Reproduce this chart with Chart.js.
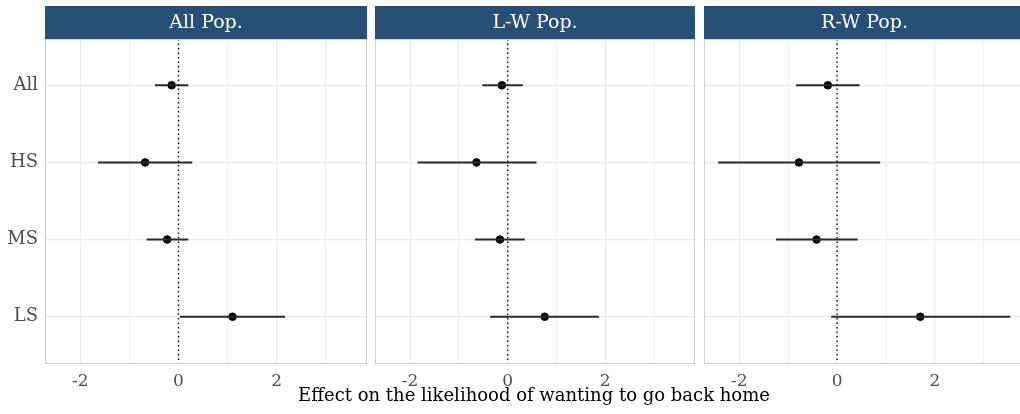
<!DOCTYPE html>
<html>
<head>
<meta charset="utf-8">
<script src="https://cdn.jsdelivr.net/npm/chart.js@4.4.1/dist/chart.umd.min.js"></script>
<style>
  html, body { margin: 0; padding: 0; background: #fff; overflow: hidden; }
  #wrap { position: relative; width: 1020px; height: 414px; overflow: hidden; }
  canvas { position: absolute; top: 0; }
  #xtitle {
    position: absolute; left: 0; width: 1068px; top: 384px;
    text-align: center; font-family: 'DejaVu Serif', serif; font-size: 18px; color: #000;
  }
</style>
</head>
<body>
<div id="wrap">
  <canvas id="p1" width="368" height="414" style="left:0px"></canvas>
  <canvas id="p2" width="321" height="414" style="left:375px"></canvas>
  <canvas id="p3" width="322" height="414" style="left:704px"></canvas>
  <div id="xtitle">Effect on the likelihood of wanting to go back home</div>
</div>
<script>
var categories = ['All', 'HS', 'MS', 'LS'];
var panelTitles = ['All Pop.', 'L-W Pop.', 'R-W Pop.'];

var allPopEst = [-0.14, -0.68, -0.23, 1.10];
var allPopLow = [-0.48, -1.64, -0.65, 0.03];
var allPopHigh = [0.20, 0.28, 0.20, 2.17];

var lwPopEst = [-0.12, -0.64, -0.16, 0.76];
var lwPopLow = [-0.52, -1.85, -0.67, -0.36];
var lwPopHigh = [0.31, 0.59, 0.35, 1.87];

var rwPopEst = [-0.19, -0.78, -0.42, 1.70];
var rwPopLow = [-0.84, -2.43, -1.25, -0.12];
var rwPopHigh = [0.46, 0.88, 0.42, 3.54];

var xTicks = [-2, -1, 0, 1, 2, 3];
var xTickLabels = ['-2', '', '0', '', '2', ''];

var serif = "'DejaVu Serif', serif";

// strip header, panel border and dotted zero line
var facetPlugin = {
  id: 'facet',
  beforeDatasetsDraw: function (chart, args, opts) {
    var ctx = chart.ctx, a = chart.chartArea;
    var x0 = chart.scales.x.getPixelForValue(0);
    ctx.save();
    ctx.strokeStyle = '#111';
    ctx.lineWidth = 1.4;
    ctx.setLineDash([1.5, 3]);
    ctx.beginPath();
    ctx.moveTo(x0, a.top);
    ctx.lineTo(x0, a.bottom);
    ctx.stroke();
    ctx.restore();
  },
  afterDraw: function (chart, args, opts) {
    var ctx = chart.ctx, a = chart.chartArea;
    ctx.save();
    ctx.strokeStyle = '#cfcfcf';
    ctx.lineWidth = 1;
    ctx.strokeRect(a.left + 0.5, a.top + 0.5, a.right - a.left - 1, a.bottom - a.top);
    ctx.fillStyle = '#284f76';
    ctx.fillRect(a.left, 6, a.right - a.left, a.top - 6);
    ctx.fillStyle = '#ffffff';
    ctx.font = '19px ' + serif;
    ctx.textAlign = 'center';
    ctx.textBaseline = 'middle';
    ctx.fillText(opts.title, (a.left + a.right) / 2, 23);
    ctx.restore();
  }
};

function makePanel(id, title, est, low, high, showY) {
  var datasets = [];
  categories.forEach(function (c, i) {
    datasets.push({
      type: 'line',
      data: [{ x: low[i], y: i + 1 }, { x: high[i], y: i + 1 }],
      borderColor: '#2b2b2b',
      borderWidth: 2,
      pointRadius: 0,
      showLine: true
    });
  });
  datasets.push({
    data: est.map(function (v, i) { return { x: v, y: i + 1 }; }),
    backgroundColor: '#000',
    borderColor: '#000',
    pointRadius: 3.8
  });

  return new Chart(document.getElementById(id), {
    type: 'scatter',
    data: { datasets: datasets },
    plugins: [facetPlugin],
    options: {
      responsive: false,
      animation: false,
      layout: { autoPadding: false, padding: { top: 39, right: 1, left: 0, bottom: 0 } },
      plugins: {
        legend: { display: false },
        tooltip: { enabled: false },
        facet: { title: title }
      },
      scales: {
        x: {
          type: 'linear',
          min: -2.72,
          max: 3.84,
          afterBuildTicks: function (s) { s.ticks = xTicks.map(function (v) { return { value: v }; }); },
          afterFit: function (s) { s.height = 51; },
          border: { display: false },
          grid: {
            drawTicks: false,
            color: '#ebebeb',
            lineWidth: function (c) { return c.tick && c.tick.value % 2 === 0 ? 1.2 : 0.8; }
          },
          ticks: {
            padding: 8,
            color: '#4d4d4d',
            font: { family: serif, size: 17 },
            callback: function (v) { return xTickLabels[xTicks.indexOf(v)]; }
          }
        },
        y: {
          type: 'linear',
          min: 0.4,
          max: 4.6,
          reverse: true,
          afterBuildTicks: function (s) { s.ticks = categories.map(function (c, i) { return { value: i + 1 }; }); },
          afterFit: function (s) { s.width = showY ? 45 : 0; },
          border: { display: false },
          grid: { drawTicks: false, color: '#ebebeb', lineWidth: 1.2 },
          ticks: {
            display: showY,
            padding: 7,
            color: '#4d4d4d',
            font: { family: serif, size: 18 },
            callback: function (v) { return categories[v - 1]; }
          }
        }
      }
    }
  });
}

makePanel('p1', panelTitles[0], allPopEst, allPopLow, allPopHigh, true);
makePanel('p2', panelTitles[1], lwPopEst, lwPopLow, lwPopHigh, false);
makePanel('p3', panelTitles[2], rwPopEst, rwPopLow, rwPopHigh, false);
</script>
</body>
</html>
